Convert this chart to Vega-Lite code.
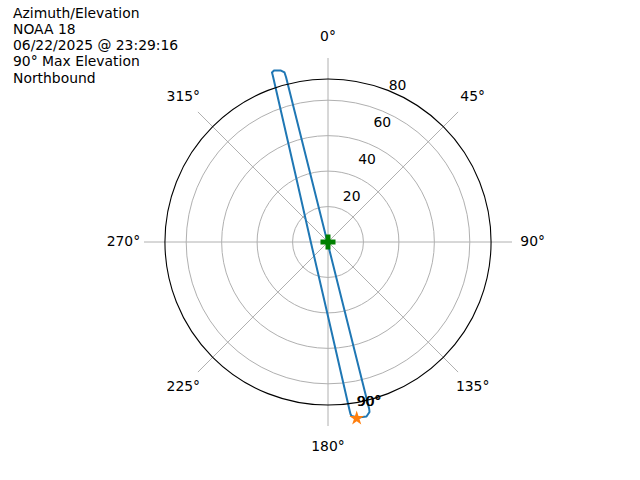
{
  "$schema": "https://vega.github.io/schema/vega-lite/v6.json",
  "autosize": {"type": "none"},
  "padding": {"left": 144, "top": 58, "right": 128, "bottom": 54},
  "width": 368,
  "height": 368,
  "background": "white",
  "config": {"view": {"stroke": null}, "font": "DejaVu Sans"},
  "title": {
    "text": ["Azimuth/Elevation", "NOAA 18", "06/22/2025 @ 23:29:16", "90° Max Elevation", "Northbound"],
    "anchor": "start",
    "frame": "group",
    "orient": "top",
    "dx": -131,
    "dy": 55,
    "offset": 0,
    "baseline": "top",
    "font": "DejaVu Sans",
    "fontSize": 13.9,
    "fontWeight": "normal",
    "color": "#000000",
    "lineHeight": 16.25
  },
  "datasets": {
    "track": [
      {"i": 1, "az": 172.31, "r": 87.79},
      {"i": 2, "az": 170.3, "r": 89.02},
      {"i": 3, "az": 167.56, "r": 89.35},
      {"i": 4, "az": 166.28, "r": 87.5},
      {"i": 5, "az": 166.14, "r": 86.0},
      {"i": 6, "az": 166.52, "r": 29.82},
      {"i": 7, "az": 345.35, "r": 29.46},
      {"i": 8, "az": 345.72, "r": 85.13},
      {"i": 9, "az": 345.61, "r": 87.5},
      {"i": 10, "az": 344.67, "r": 88.91},
      {"i": 11, "az": 342.52, "r": 89.9},
      {"i": 12, "az": 341.72, "r": 89.26},
      {"i": 13, "az": 341.64, "r": 87.45},
      {"i": 14, "az": 334.7, "r": 38.72},
      {"i": 15, "az": 270.0, "r": 8.6},
      {"i": 16, "az": 179.7, "r": 38.0},
      {"i": 17, "az": 172.71, "r": 84.69},
      {"i": 18, "az": 172.55, "r": 86.73},
      {"i": 19, "az": 172.31, "r": 87.79}
    ],
    "gridCircles": [{"r": 20}, {"r": 40}, {"r": 60}, {"r": 80}],
    "spine": [{"r": 92}],
    "spokes": [
      {"az": 0, "r": 92}, {"az": 45, "r": 92}, {"az": 90, "r": 92}, {"az": 135, "r": 92},
      {"az": 180, "r": 92}, {"az": 225, "r": 92}, {"az": 270, "r": 92}, {"az": 315, "r": 92}
    ],
    "angleLabels": [
      {"az": 0, "label": "0°"}, {"az": 45, "label": "45°"}, {"az": 90, "label": "90°"},
      {"az": 135, "label": "135°"}, {"az": 180, "label": "180°"}, {"az": 225, "label": "225°"},
      {"az": 270, "label": "270°"}, {"az": 315, "label": "315°"}
    ],
    "radialLabels": [
      {"r": 20, "label": "20"}, {"r": 40, "label": "40"}, {"r": 60, "label": "60"}, {"r": 80, "label": "80"}
    ],
    "annot": [
      {"az": 165.45, "r": 82.6, "label": "90°"},
      {"az": 165.7, "r": 82.5, "label": "90°"}
    ],
    "startMarker": [{"az": 170.75, "r": 89.3}],
    "maxMarker": [{"az": 0, "r": 0}]
  },
  "layer": [
    {
      "data": {"name": "gridCircles"},
      "mark": {"type": "point", "shape": "circle", "filled": false, "opacity": 1, "color": "#b0b0b0", "strokeWidth": 1},
      "encoding": {
        "x": {"datum": 0, "type": "quantitative", "scale": {"domain": [-92, 92], "nice": false, "zero": false}, "axis": null},
        "y": {"datum": 0, "type": "quantitative", "scale": {"domain": [-92, 92], "nice": false, "zero": false}, "axis": null},
        "size": {"field": "r", "type": "quantitative", "scale": {"type": "pow", "exponent": 2, "domain": [0, 92], "range": [0, 106362.5]}, "legend": null}
      }
    },
    {
      "data": {"name": "spokes"},
      "transform": [
        {"calculate": "datum.r * sin(datum.az * PI / 180)", "as": "x"},
        {"calculate": "datum.r * cos(datum.az * PI / 180)", "as": "y"}
      ],
      "mark": {"type": "rule", "color": "#b0b0b0", "strokeWidth": 1},
      "encoding": {
        "x": {"field": "x", "type": "quantitative", "scale": {"domain": [-92, 92], "nice": false, "zero": false}, "axis": null},
        "y": {"field": "y", "type": "quantitative", "scale": {"domain": [-92, 92], "nice": false, "zero": false}, "axis": null},
        "x2": {"datum": 0},
        "y2": {"datum": 0}
      }
    },
    {
      "data": {"name": "track"},
      "transform": [
        {"calculate": "datum.r * sin(datum.az * PI / 180)", "as": "x"},
        {"calculate": "datum.r * cos(datum.az * PI / 180)", "as": "y"}
      ],
      "mark": {"type": "line", "color": "#1f77b4", "strokeWidth": 2, "strokeJoin": "round", "strokeCap": "round", "interpolate": "linear"},
      "encoding": {
        "x": {"field": "x", "type": "quantitative", "scale": {"domain": [-92, 92], "nice": false, "zero": false}, "axis": null},
        "y": {"field": "y", "type": "quantitative", "scale": {"domain": [-92, 92], "nice": false, "zero": false}, "axis": null},
        "order": {"field": "i", "type": "quantitative"}
      }
    },
    {
      "data": {"name": "spine"},
      "mark": {"type": "point", "shape": "circle", "filled": false, "opacity": 1, "color": "#000000", "strokeWidth": 1.1},
      "encoding": {
        "x": {"datum": 0, "type": "quantitative", "scale": {"domain": [-92, 92], "nice": false, "zero": false}, "axis": null},
        "y": {"datum": 0, "type": "quantitative", "scale": {"domain": [-92, 92], "nice": false, "zero": false}, "axis": null},
        "size": {"field": "r", "type": "quantitative", "scale": {"type": "pow", "exponent": 2, "domain": [0, 92], "range": [0, 106362.5]}, "legend": null}
      }
    },
    {
      "data": {"name": "annot"},
      "transform": [
        {"calculate": "datum.r * sin(datum.az * PI / 180)", "as": "x"},
        {"calculate": "datum.r * cos(datum.az * PI / 180)", "as": "y"}
      ],
      "mark": {"type": "text", "font": "DejaVu Sans", "fontSize": 13.9, "color": "#000000", "align": "center", "baseline": "middle"},
      "encoding": {
        "x": {"field": "x", "type": "quantitative", "scale": {"domain": [-92, 92], "nice": false, "zero": false}, "axis": null},
        "y": {"field": "y", "type": "quantitative", "scale": {"domain": [-92, 92], "nice": false, "zero": false}, "axis": null},
        "text": {"field": "label"}
      }
    },
    {
      "data": {"name": "startMarker"},
      "transform": [
        {"calculate": "datum.r * sin(datum.az * PI / 180)", "as": "x"},
        {"calculate": "datum.r * cos(datum.az * PI / 180)", "as": "y"}
      ],
      "mark": {"type": "point", "filled": true, "opacity": 1, "color": "#ff7f0e", "size": 240,
        "shape": "M0,-1L0.2245,-0.309L0.9511,-0.309L0.3633,0.118L0.5878,0.809L0,0.382L-0.5878,0.809L-0.3633,0.118L-0.9511,-0.309L-0.2245,-0.309Z"},
      "encoding": {
        "x": {"field": "x", "type": "quantitative", "scale": {"domain": [-92, 92], "nice": false, "zero": false}, "axis": null},
        "y": {"field": "y", "type": "quantitative", "scale": {"domain": [-92, 92], "nice": false, "zero": false}, "axis": null}
      }
    },
    {
      "data": {"name": "maxMarker"},
      "transform": [
        {"calculate": "datum.r * sin(datum.az * PI / 180)", "as": "x"},
        {"calculate": "datum.r * cos(datum.az * PI / 180)", "as": "y"}
      ],
      "mark": {"type": "point", "filled": true, "opacity": 1, "color": "#008000", "size": 225,
        "shape": "M-0.333,-1L0.333,-1L0.333,-0.333L1,-0.333L1,0.333L0.333,0.333L0.333,1L-0.333,1L-0.333,0.333L-1,0.333L-1,-0.333L-0.333,-0.333Z"},
      "encoding": {
        "x": {"field": "x", "type": "quantitative", "scale": {"domain": [-92, 92], "nice": false, "zero": false}, "axis": null},
        "y": {"field": "y", "type": "quantitative", "scale": {"domain": [-92, 92], "nice": false, "zero": false}, "axis": null}
      }
    },
    {
      "data": {"name": "angleLabels"},
      "transform": [
        {"calculate": "102.3 * sin(datum.az * PI / 180)", "as": "x"},
        {"calculate": "102.3 * cos(datum.az * PI / 180)", "as": "y"}
      ],
      "mark": {"type": "text", "font": "DejaVu Sans", "fontSize": 13.9, "color": "#000000", "align": "center", "baseline": "middle"},
      "encoding": {
        "x": {"field": "x", "type": "quantitative", "scale": {"domain": [-92, 92], "nice": false, "zero": false}, "axis": null},
        "y": {"field": "y", "type": "quantitative", "scale": {"domain": [-92, 92], "nice": false, "zero": false}, "axis": null},
        "text": {"field": "label"}
      }
    },
    {
      "data": {"name": "radialLabels"},
      "transform": [
        {"calculate": "datum.r * sin(22.5 * PI / 180)", "as": "x"},
        {"calculate": "datum.r * cos(22.5 * PI / 180)", "as": "y"}
      ],
      "mark": {"type": "text", "font": "DejaVu Sans", "fontSize": 13.9, "color": "#000000", "align": "center", "baseline": "middle", "dx": 8.4, "dy": -8.4},
      "encoding": {
        "x": {"field": "x", "type": "quantitative", "scale": {"domain": [-92, 92], "nice": false, "zero": false}, "axis": null},
        "y": {"field": "y", "type": "quantitative", "scale": {"domain": [-92, 92], "nice": false, "zero": false}, "axis": null},
        "text": {"field": "label"}
      }
    }
  ]
}
